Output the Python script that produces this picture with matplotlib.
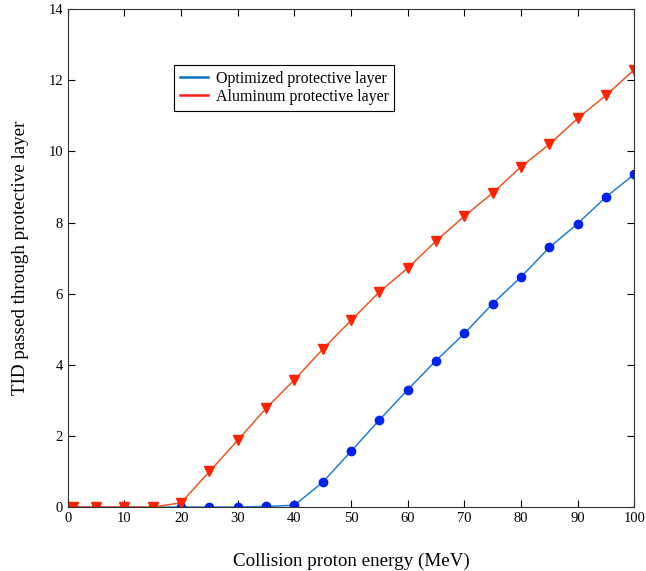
import numpy as np
import matplotlib.pyplot as plt

# Veri
energy = [1, 5, 10, 15, 20, 25, 30, 35, 40, 45, 50, 55, 60, 65, 70, 75, 80, 85, 90, 95, 100]
tid_optimized = [0, 0, 0, 0, 0, 0, 0, 0.02, 0.05, 0.7, 1.57, 2.45, 3.3, 4.12, 4.88,
                 5.72, 6.47, 7.3, 7.97, 8.72, 9.36]
tid_aluminum = [0, 0, 0, 0, 0.12, 1.0, 1.88, 2.78, 3.58, 4.44, 5.25, 6.05, 6.72, 7.48,
                8.18, 8.83, 9.57, 10.2, 10.93, 11.58, 12.3]
xticks = [0, 10, 20, 30, 40, 50, 60, 70, 80, 90, 100]
yticks = [0, 2, 4, 6, 8, 10, 12, 14]

plt.rcParams['font.family'] = ['Liberation Serif', 'DejaVu Serif']

fig = plt.figure(figsize=(6.46, 5.71), dpi=100)
ax = fig.add_axes([0.105, 0.112, 0.877, 0.872])

ax.plot(energy, tid_optimized, color='#1f7fd0', lw=1.1, marker='o', ms=6,
        mfc='#0022ee', mec='#0022ee')
ax.plot(energy, tid_aluminum, color='#ee5522', lw=1.1, marker='v', ms=7,
        mfc='#ff2200', mec='#ff2200')

# Legend (sadece çizgi)
h1, = ax.plot([], [], color='#0072BD', lw=1.8)
h2, = ax.plot([], [], color='#ff1a1a', lw=1.8)
leg = ax.legend([h1, h2], ['Optimized protective layer', 'Aluminum protective layer'],
                loc='upper left', bbox_to_anchor=(174 / 646, 1 - 65 / 571),
                bbox_transform=fig.transFigure, borderaxespad=0,
                fontsize=11.5, handlelength=1.8, handletextpad=0.45, borderpad=0.35,
                labelspacing=0.15, fancybox=False, framealpha=1, edgecolor='black')
leg.get_frame().set_linewidth(0.8)

ax.set_xlim(0, 100)
ax.set_ylim(0, 14)
ax.set_xticks(xticks)
ax.set_yticks(yticks)
ax.tick_params(direction='in', top=True, right=True, labelsize=10.5, length=5)
for s in ax.spines.values():
    s.set_linewidth(0.8)
    s.set_color('#333333')

ax.set_xlabel('Collision proton energy (MeV)', fontsize=13.7, labelpad=20)
ax.set_ylabel('TID passed through protective layer', fontsize=13.7, labelpad=14)

plt.savefig('out.png', dpi=100)
